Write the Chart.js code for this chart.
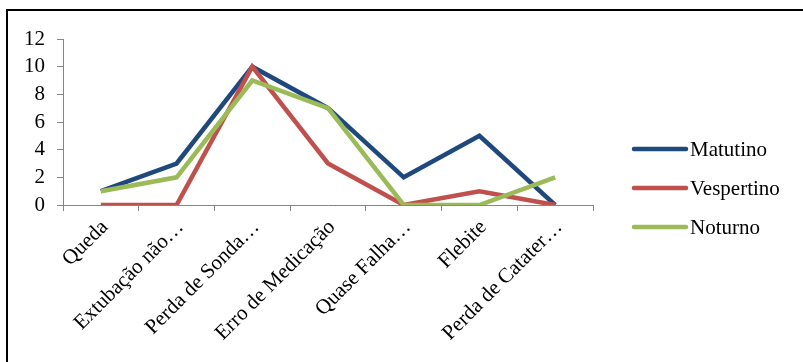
<!DOCTYPE html>
<html>
<head>
<meta charset="utf-8">
<script src="https://cdn.jsdelivr.net/npm/chart.js@4/dist/chart.umd.min.js"></script>
<style>
  html, body { margin: 0; padding: 0; background: #ffffff; overflow: hidden; }
  #wrap { position: relative; width: 803px; height: 362px; }
</style>
</head>
<body>
<div id="wrap"><canvas id="c" width="803" height="362"></canvas></div>
<script>
// Ocorrências por turno
const categories = [
  'Queda',
  'Extubação não…',
  'Perda de Sonda…',
  'Erro de Medicação',
  'Quase Falha…',
  'Flebite',
  'Perda de Catater…'
];
const matutino   = [1, 3, 10, 7, 2, 5, 0];
const vespertino = [0, 0, 10, 3, 0, 1, 0];
const noturno    = [1, 2, 9, 7, 0, 0, 2];
const seriesNames = ['Matutino', 'Vespertino', 'Noturno'];
const yTicks = [0, 2, 4, 6, 8, 10, 12];

const FONT = '"Liberation Serif", "Times New Roman", serif';
const AXIS = '#868686';

// outer frame and a line legend at the right side
const framePlugin = {
  id: 'frame',
  beforeDraw(chart) {
    const ctx = chart.ctx;
    ctx.save();
    ctx.fillStyle = '#ffffff';
    ctx.fillRect(0, 0, chart.width, chart.height);
    ctx.strokeStyle = '#000000';
    ctx.lineWidth = 2;
    ctx.strokeRect(7, 10, chart.width + 20, chart.height + 20);
    ctx.restore();
  },
  afterDraw(chart) {
    const ctx = chart.ctx;
    ctx.save();
    ctx.font = '21px ' + FONT;
    ctx.textBaseline = 'middle';
    ctx.textAlign = 'left';
    chart.data.datasets.forEach((ds, i) => {
      const y = 149 + i * 39;
      ctx.strokeStyle = ds.borderColor;
      ctx.lineWidth = 4.5;
      ctx.lineCap = 'round';
      ctx.beginPath();
      ctx.moveTo(634, y);
      ctx.lineTo(686, y);
      ctx.stroke();
      ctx.fillStyle = '#000000';
      ctx.fillText(ds.label, 690, y + 1);
    });
    ctx.restore();
  }
};

const colors = ['#1F497D', '#C0504D', '#9BBB59'];
const values = [matutino, vespertino, noturno];

new Chart(document.getElementById('c'), {
  type: 'line',
  data: {
    labels: categories,
    datasets: values.map((v, i) => ({
      label: seriesNames[i],
      data: v,
      borderColor: colors[i],
      backgroundColor: colors[i],
      borderWidth: 4.5,
      pointRadius: 0,
      tension: 0,
      order: 2 - i
    }))
  },
  options: {
    responsive: false,
    animation: false,
    layout: { padding: { left: 0, top: 39, right: 210, bottom: 0 } },
    plugins: { legend: { display: false }, tooltip: { enabled: false } },
    scales: {
      x: {
        offset: true,
        grid: { offset: true, drawOnChartArea: false, drawTicks: true, tickLength: 6, color: AXIS },
        border: { color: AXIS, width: 1 },
        ticks: {
          autoSkip: false,
          maxRotation: 45,
          minRotation: 45,
          color: '#000000',
          padding: 4,
          labelOffset: 4,
          font: { family: FONT, size: 21 }
        },
        afterFit(scale) { scale.height = 157; }
      },
      y: {
        min: 0,
        max: 12,
        afterBuildTicks(scale) { scale.ticks = yTicks.map(v => ({ value: v })); },
        grid: { drawOnChartArea: false, drawTicks: true, tickLength: 6, color: AXIS },
        border: { color: AXIS, width: 1 },
        ticks: {
          autoSkip: false,
          color: '#000000',
          padding: 12,
          font: { family: FONT, size: 21 }
        },
        afterFit(scale) { scale.width = 63; }
      }
    }
  },
  plugins: [framePlugin]
});
</script>
</body>
</html>
